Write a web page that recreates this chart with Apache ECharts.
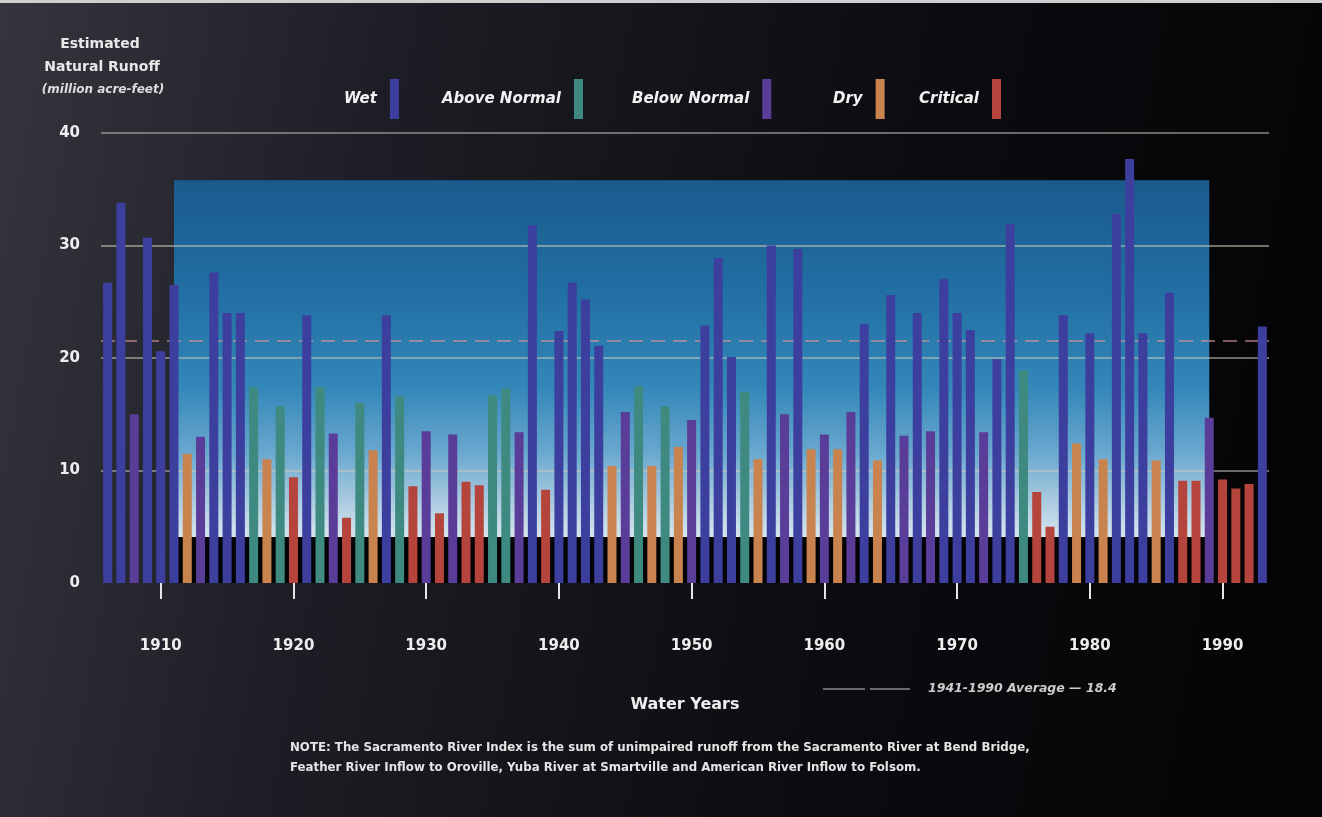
<!DOCTYPE html>
<html>
<head>
<meta charset="utf-8">
<script src="https://cdn.jsdelivr.net/npm/echarts@6/dist/echarts.min.js"></script>
<style>
  html, body { margin: 0; padding: 0; background: #0a0a0e; }
  #chart { width: 1322px; height: 817px; }
</style>
</head>
<body>
<div id="chart"></div>
<script>
// ---------- DATA ----------
const years = ['1906','1907','1908','1909','1910','1911','1912','1913','1914','1915','1916','1917','1918','1919','1920',
  '1921','1922','1923','1924','1925','1926','1927','1928','1929','1930','1931','1932','1933','1934','1935','1936','1937',
  '1938','1939','1940','1941','1942','1943','1944','1945','1946','1947','1948','1949','1950','1951','1952','1953','1954',
  '1955','1956','1957','1958','1959','1960','1961','1962','1963','1964','1965','1966','1967','1968','1969','1970','1971',
  '1972','1973','1974','1975','1976','1977','1978','1979','1980','1981','1982','1983','1984','1985','1986','1987','1988',
  '1989','1990','1991','1992','1993'];

const runoff = [26.7, 33.8, 15.0, 30.7, 20.6, 26.5, 11.5, 13.0, 27.6, 24.0, 24.0, 17.4, 11.0, 15.7, 9.4,
  23.8, 17.4, 13.3, 5.8, 16.0, 11.8, 23.8, 16.6, 8.6, 13.5, 6.2, 13.2, 9.0, 8.7, 16.7, 17.3, 13.4,
  31.8, 8.3, 22.4, 26.7, 25.2, 21.1, 10.4, 15.2, 17.5, 10.4, 15.7, 12.1, 14.5, 22.9, 28.9, 20.1, 17.0,
  11.0, 30.0, 15.0, 29.7, 11.9, 13.2, 11.9, 15.2, 23.0, 10.9, 25.6, 13.1, 24.0, 13.5, 27.0, 24.0, 22.5,
  13.4, 19.9, 31.9, 18.9, 8.1, 5.0, 23.8, 12.4, 22.2, 11.0, 32.8, 37.7, 22.2, 10.9, 25.8, 9.1, 9.1,
  14.7, 9.2, 8.4, 8.8, 22.8];

const yearType = ['W','W','BN','W','W','W','D','BN','W','W','W','AN','D','AN','C',
  'W','AN','BN','C','AN','D','W','AN','C','BN','C','BN','C','C','AN','AN','BN',
  'W','C','W','W','W','W','D','BN','AN','D','AN','D','BN','W','W','W','AN',
  'D','W','BN','W','D','BN','D','BN','W','D','W','BN','W','BN','W','W','W',
  'BN','W','W','AN','C','C','W','D','W','D','W','W','W','D','W','C','C',
  'BN','C','C','C','W'];

const typeCodes = ['W', 'AN', 'BN', 'D', 'C'];
const typeNames = ['Wet', 'Above Normal', 'Below Normal', 'Dry', 'Critical'];
const yTicks = [0, 10, 20, 30, 40];
const averageLineValue = 21.5;   // dashed line as drawn in the picture
const averageText = '1941-1990 Average — 18.4';

// ---------- STYLE ----------
const typeColors = ['#3c3f9e', '#3f8a80', '#5a3d98', '#c8834f', '#b4443c'];
const legendLeft = [344, 442, 632, 833, 919];
const FONT = '"DejaVu Sans", sans-serif';
const panelFrom = years.indexOf('1911');
const panelTo = years.indexOf('1989');
// [fromIndex, toIndex, yLow, yHigh, kind]
const panels = [
  [panelFrom, panelTo, 4.1, 35.8, 0],
  [panelFrom, panelTo, 0, 4.1, 1]
];

const chart = echarts.init(document.getElementById('chart'));

const panelFill = [
  new echarts.graphic.LinearGradient(0, 0, 0, 1, [
    { offset: 0, color: '#1a5b8d' },
    { offset: 0.3, color: '#216ea2' },
    { offset: 0.58, color: '#3387b8' },
    { offset: 0.76, color: '#68a7ce' },
    { offset: 0.9, color: '#aacbe0' },
    { offset: 1, color: '#d6e5ee' }
  ]),
  '#030305'
];

const series = typeCodes.map((code, k) => ({
  name: typeNames[k],
  type: 'bar',
  barWidth: 9,
  barGap: '-100%',
  z: 3,
  itemStyle: { color: typeColors[k] },
  data: runoff.map((v, i) => yearType[i] === code ? v : '-')
}));

series.push({
  name: 'panel',
  type: 'custom',
  z: 1,
  silent: true,
  encode: { x: [0, 1], y: [2, 3] },
  data: panels,
  renderItem: function (params, api) {
    const p1 = api.coord([api.value(0), api.value(3)]);
    const p2 = api.coord([api.value(1), api.value(2)]);
    return {
      type: 'rect',
      shape: { x: p1[0], y: p1[1], width: p2[0] - p1[0], height: p2[1] - p1[1] },
      style: { fill: panelFill[api.value(4)] }
    };
  }
});

// average line
series[1].markLine = {
  silent: true,
  symbol: 'none',
  z: 2,
  label: { show: false },
  lineStyle: { color: 'rgba(214,150,150,0.8)', type: [14, 8], width: 1.5 },
  data: [{ yAxis: averageLineValue }]
};

const legends = typeNames.map((name, k) => ({
  data: [name],
  left: legendLeft[k],
  top: 79,
  padding: 0,
  align: 'right',
  icon: 'rect',
  itemWidth: 9,
  itemHeight: 40,
  selectedMode: false,
  textStyle: {
    color: '#f2f2f2', fontFamily: FONT, fontSize: 15, fontStyle: 'italic', fontWeight: 'bold',
    padding: [0, 8, 0, 0]
  }
}));

const decade = (idx, val) => Number(val) % 10 === 0;

const option = {
  animation: false,
  backgroundColor: {
    type: 'linear', x: 0, y: 0, x2: 1, y2: 0.3,
    colorStops: [
      { offset: 0, color: '#35353d' },
      { offset: 0.3, color: '#1d1d25' },
      { offset: 0.65, color: '#0d0d12' },
      { offset: 1, color: '#050507' }
    ]
  },
  legend: legends,
  grid: { left: 101, right: 53, top: 133, bottom: 234 },
  xAxis: {
    type: 'category',
    data: years,
    offset: 18,
    axisLine: { show: false },
    axisTick: {
      show: true, interval: decade, alignWithLabel: true, length: 16,
      lineStyle: { color: '#e6e6e6', width: 2 }
    },
    axisLabel: {
      interval: decade, margin: 38, color: '#eeeeee',
      fontFamily: FONT, fontSize: 15, fontWeight: 'bold'
    },
    splitLine: { show: false }
  },
  yAxis: {
    type: 'value',
    min: yTicks[0],
    max: yTicks[yTicks.length - 1],
    interval: 10,
    z: 2,
    axisLine: { show: false },
    axisTick: { show: false },
    axisLabel: {
      margin: 21, color: '#eeeeee', fontFamily: FONT, fontSize: 15, fontWeight: 'bold'
    },
    splitLine: {
      show: true,
      lineStyle: {
        color: ['rgba(0,0,0,0)', 'rgba(200,200,190,0.7)', 'rgba(200,200,190,0.7)', 'rgba(200,200,180,0.75)', 'rgba(170,170,170,0.8)'],
        width: 1.5
      }
    }
  },
  graphic: [
    { type: 'rect', left: 0, top: 0, shape: { width: 1322, height: 3 }, style: { fill: '#cfcfcf' }, silent: true },
    { type: 'text', x: 100, y: 44, style: { text: 'Estimated', fill: '#e8e8e8', font: 'bold 14px ' + FONT, textAlign: 'center', textVerticalAlign: 'middle' } },
    { type: 'text', x: 102, y: 67, style: { text: 'Natural Runoff', fill: '#e8e8e8', font: 'bold 14px ' + FONT, textAlign: 'center', textVerticalAlign: 'middle' } },
    { type: 'text', x: 103, y: 90, style: { text: '(million acre-feet)', fill: '#dddddd', font: 'italic bold 12px ' + FONT, textAlign: 'center', textVerticalAlign: 'middle' } },
    { type: 'text', x: 685, y: 705, style: { text: 'Water Years', fill: '#eeeeee', font: 'bold 16px ' + FONT, textAlign: 'center', textVerticalAlign: 'middle' } },
    { type: 'line', shape: { x1: 823, y1: 689, x2: 910, y2: 689 }, style: { stroke: '#8a8a8a', lineWidth: 1.5, lineDash: [42, 5] }, silent: true },
    { type: 'text', x: 928, y: 689, style: { text: averageText, fill: '#cccccc', font: 'italic bold 12.5px ' + FONT, textAlign: 'left', textVerticalAlign: 'middle' } },
    { type: 'text', x: 290, y: 748, style: { text: 'NOTE: The Sacramento River Index is the sum of unimpaired runoff from the Sacramento River at Bend Bridge,', fill: '#e4e4e4', font: 'bold 11.8px ' + FONT, textAlign: 'left', textVerticalAlign: 'middle' } },
    { type: 'text', x: 290, y: 768, style: { text: 'Feather River Inflow to Oroville, Yuba River at Smartville and American River Inflow to Folsom.', fill: '#e4e4e4', font: 'bold 11.8px ' + FONT, textAlign: 'left', textVerticalAlign: 'middle' } }
  ],
  series: series
};

chart.setOption(option);
</script>
</body>
</html>
